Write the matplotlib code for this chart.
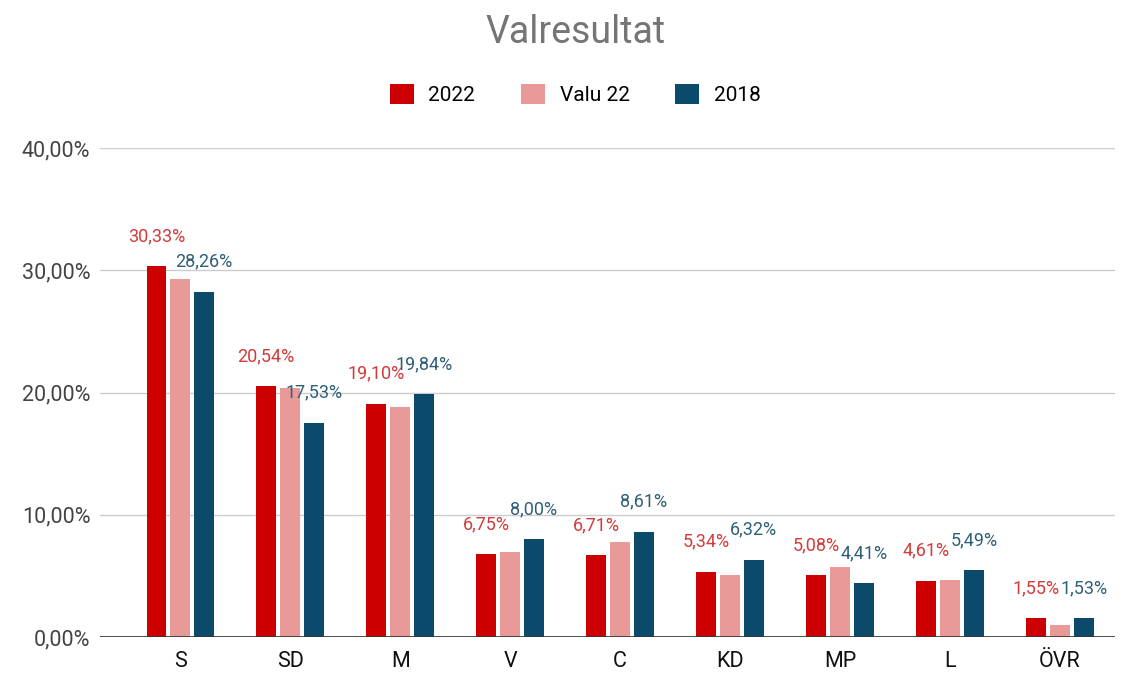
import numpy as np
import matplotlib.pyplot as plt

plt.rcParams['font.family'] = ['Roboto', 'DejaVu Sans']

# data
parties = ['S', 'SD', 'M', 'V', 'C', 'KD', 'MP', 'L', 'ÖVR']
res_2022 = [30.33, 20.54, 19.10, 6.75, 6.71, 5.34, 5.08, 4.61, 1.55]
valu_22 = [29.25, 20.4, 18.8, 6.95, 7.75, 5.1, 5.75, 4.65, 0.95]
res_2018 = [28.26, 17.53, 19.84, 8.00, 8.61, 6.32, 4.41, 5.49, 1.53]
y_ticks = [0, 10, 20, 30, 40]

c_2022 = '#cc0000'
c_valu = '#ea9999'
c_2018 = '#0b4a6b'

fig = plt.figure(figsize=(11.3, 6.73), dpi=100)
ax = fig.add_axes([0.0885, 0.0535, 0.898, 0.7265])

x = np.arange(len(parties))
w = 0.178
off = 0.218

b1 = ax.bar(x - off, res_2022, w, color=c_2022, label='2022', zorder=3)
b2 = ax.bar(x, valu_22, w, color=c_valu, label='Valu 22', zorder=3)
b3 = ax.bar(x + off, res_2018, w, color=c_2018, label='2018', zorder=3)

def fmt(v):
    return ('%.2f' % v).replace('.', ',') + '%'

# etiketter ovanför staplarna (bara 2022 och 2018)
for xi, v in zip(x - off, res_2022):
    ax.annotate(fmt(v), (xi, v), xytext=(0, 30), textcoords='offset pixels',
                ha='center', va='center', fontsize=13, color='#d43a3a', zorder=4)
for xi, v in zip(x + off, res_2018):
    ax.annotate(fmt(v), (xi, v), xytext=(0, 30), textcoords='offset pixels',
                ha='center', va='center', fontsize=13, color='#2f5f78', zorder=4)

ax.set_xlim(-0.73, 8.5)
ax.set_ylim(0, 40)
ax.set_yticks(y_ticks)
ax.set_yticklabels([fmt(t) for t in y_ticks], fontsize=15.5, color='#444444')
ax.set_xticks(x)
ax.set_xticklabels(parties, fontsize=15.5, color='#111111')
ax.tick_params(length=0)
ax.tick_params(axis='x', pad=10)
ax.tick_params(axis='y', pad=7)

ax.grid(axis='y', color='#cccccc', lw=1, zorder=0)
ax.axhline(0, color='#333333', lw=1.2, zorder=4)
for s in ax.spines.values():
    s.set_visible(False)

fig.text(0.509, 0.952, 'Valresultat', ha='center', va='center',
         fontsize=27, color='#757575')
fig.legend(handles=[b1, b2, b3], loc='center', bbox_to_anchor=(0.509, 0.86),
           ncol=3, frameon=False, fontsize=15, handlelength=1.15,
           handleheight=1.15, handletextpad=0.7, columnspacing=2.2)

fig.savefig('out.png', dpi=100)
